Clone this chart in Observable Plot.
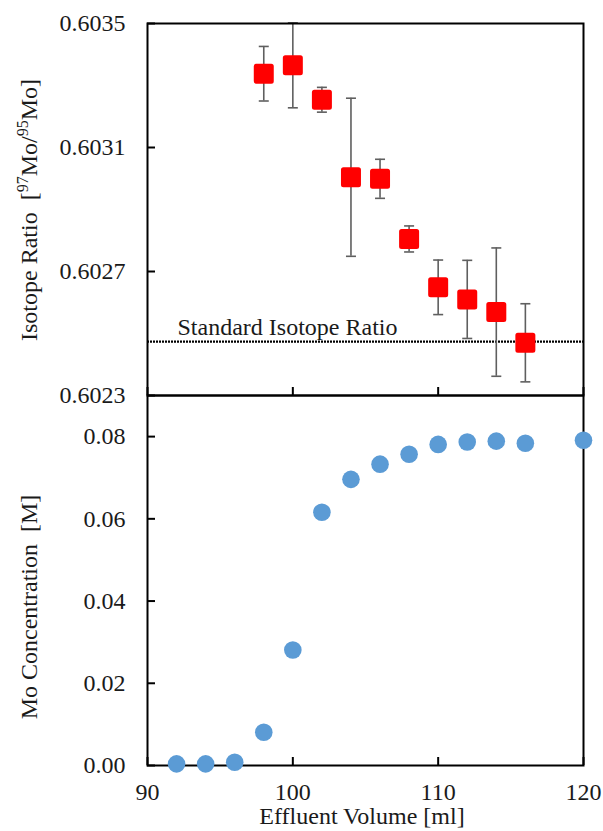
<!DOCTYPE html>
<html>
<head>
<meta charset="utf-8">
<script src="https://cdn.jsdelivr.net/npm/d3@7"></script>
<script src="https://cdn.jsdelivr.net/npm/@observablehq/plot@0.6"></script>
<style>
  body { margin: 0; background: #fff; }
  #chart { position: relative; width: 603px; height: 831px; font-family: "Liberation Serif", "Times New Roman", serif; }
  #chart svg { position: absolute; left: 0; }
</style>
</head>
<body>
<div id="chart"></div>
<script>
// Isotope ratio of collected fractions (97Mo/95Mo) with uncertainties
const ratioVolume = [98, 100, 102, 104, 106, 108, 110, 112, 114, 116];
const ratioValue  = [0.603338, 0.603365, 0.603254, 0.603004, 0.602999, 0.602805, 0.602649, 0.602610, 0.602569, 0.602470];
const ratioError  = [0.000088, 0.000137, 0.000040, 0.000255, 0.000063, 0.000042, 0.000088, 0.000126, 0.000207, 0.000126];
const standardRatio = 0.602474;
const ratioTicks = [0.6023, 0.6027, 0.6031, 0.6035];

// Mo concentration in the effluent
const concVolume = [92, 94, 96, 98, 100, 102, 104, 106, 108, 110, 112, 114, 116, 120];
const concValue  = [0.0004, 0.0004, 0.0008, 0.0081, 0.0281, 0.0616, 0.0696, 0.0733, 0.0757, 0.0781, 0.0787, 0.0789, 0.0784, 0.0791];
const concTicks = [0, 0.02, 0.04, 0.06, 0.08];

const volumeTicks = [90, 100, 110, 120];

const ratioData = ratioVolume.map((v, i) => ({
  volume: v, ratio: ratioValue[i], lo: ratioValue[i] - ratioError[i], hi: ratioValue[i] + ratioError[i]
}));
const concData = concVolume.map((v, i) => ({ volume: v, conc: concValue[i] }));

const W = 603, ML = 147, MR = 20;
const FONT = '"Liberation Serif", "Times New Roman", serif';
const FS = 24;
const ink = "#1a1a1a";
const baseStyle = { fontFamily: FONT, fontSize: FS + "px", background: "transparent", overflow: "visible", color: ink };
const errColor = "#5f5f5f";

// horizontal cap for error bars
const capSymbol = { draw(ctx) { ctx.moveTo(-5, 0); ctx.lineTo(5, 0); } };

const topPlot = Plot.plot({
  width: W, height: 410,
  marginTop: 23, marginBottom: 15, marginLeft: ML, marginRight: MR,
  style: baseStyle,
  x: { domain: [90, 120], label: null },
  y: { domain: [0.6023, 0.6035], label: null },
  marks: [
    Plot.ruleY([standardRatio], { stroke: "#000", strokeWidth: 2.2, strokeDasharray: "2,1" }),
    Plot.text(["Standard Isotope Ratio"], {
      text: d => d, y: [standardRatio], frameAnchor: "left", textAnchor: "start",
      lineAnchor: "bottom", dx: 30, dy: -7, fontSize: FS, fill: ink
    }),
    Plot.ruleX(ratioData, { x: "volume", y1: "lo", y2: "hi", stroke: errColor, strokeWidth: 1.6 }),
    Plot.dot(ratioData, { x: "volume", y: "lo", symbol: capSymbol, fill: "none", stroke: errColor, strokeWidth: 1.6 }),
    Plot.dot(ratioData, { x: "volume", y: "hi", symbol: capSymbol, fill: "none", stroke: errColor, strokeWidth: 1.6 }),
    Plot.dot(ratioData, { x: "volume", y: "ratio", symbol: "square", r: 8.46, fill: "#ff0000", stroke: "#ff0000", strokeWidth: 5, strokeLinejoin: "round" }),
    Plot.frame({ stroke: "#000", strokeWidth: 2 }),
    Plot.axisY({ ticks: ratioTicks, tickFormat: d3.format(".4f"), tickSize: 0, tickPadding: 22, label: null }),
    Plot.axisY({ ticks: ratioTicks, tickSize: 8, text: null, dx: 8, stroke: "#000", strokeWidth: 2, label: null }),
    Plot.axisX({ ticks: volumeTicks, tickSize: 8, text: null, dy: -8, stroke: "#000", strokeWidth: 2, label: null })
  ]
});

const bottomPlot = Plot.plot({
  width: W, height: 446,
  marginTop: 10, marginBottom: 66, marginLeft: ML, marginRight: MR,
  style: baseStyle,
  x: { domain: [90, 120], label: null },
  y: { domain: [0, 0.09], label: null },
  marks: [
    Plot.frame({ stroke: "#000", strokeWidth: 2 }),
    Plot.axisY({ ticks: concTicks, tickFormat: d3.format(".2f"), tickSize: 0, tickPadding: 22, label: null }),
    Plot.axisY({ ticks: concTicks, tickSize: 8, text: null, dx: 8, stroke: "#000", strokeWidth: 2, label: null }),
    Plot.axisX({ ticks: volumeTicks, tickFormat: d3.format("d"), tickSize: 0, tickPadding: 17, label: null }),
    Plot.axisX({ ticks: volumeTicks, tickSize: 8, text: null, dy: -8, stroke: "#000", strokeWidth: 2, label: null }),
    Plot.dot(concData, { x: "volume", y: "conc", r: 8.8, fill: "#5b9bd5" })
  ]
});

const chart = document.getElementById("chart");
topPlot.style.top = "0px";
bottomPlot.style.top = "385px";
chart.appendChild(topPlot);
chart.appendChild(bottomPlot);

// axis titles
const ty = d3.select(topPlot).append("text")
  .attr("transform", "translate(37,210) rotate(-90)")
  .attr("text-anchor", "middle")
  .style("font-family", FONT).style("font-size", FS + "px").attr("fill", ink);
ty.append("tspan").text("Isotope Ratio  [");
ty.append("tspan").style("font-size", "16px").attr("dy", -9).text("97");
ty.append("tspan").attr("dy", 9).text("Mo/");
ty.append("tspan").style("font-size", "16px").attr("dy", -9).text("95");
ty.append("tspan").attr("dy", 9).text("Mo]");

d3.select(bottomPlot).append("text")
  .attr("transform", "translate(37,222) rotate(-90)")
  .attr("text-anchor", "middle")
  .style("font-family", FONT).style("font-size", FS + "px").attr("fill", ink)
  .text("Mo Concentration  [M]");

d3.select(bottomPlot).append("text")
  .attr("x", 362).attr("y", 439)
  .attr("text-anchor", "middle")
  .style("font-family", FONT).style("font-size", FS + "px").attr("fill", ink)
  .text("Effluent Volume [ml]");
</script>
</body>
</html>
